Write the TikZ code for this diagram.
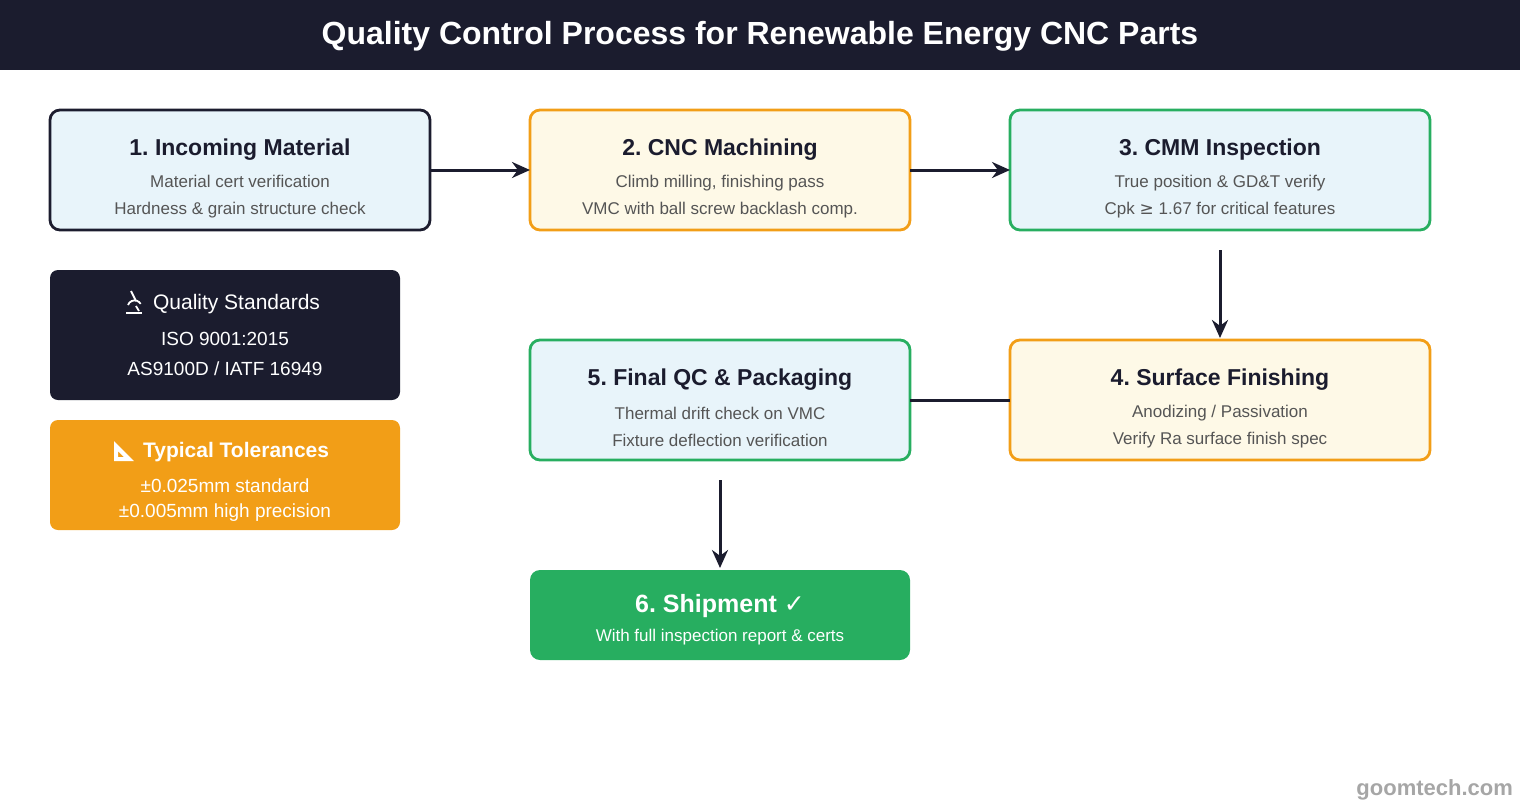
\documentclass[tikz,border=0pt]{standalone}
\usepackage{fontspec}
\setmainfont{Liberation Sans}
\newfontfamily\symf{DejaVu Sans}
\usetikzlibrary{arrows.meta}
\definecolor{navy}{HTML}{1B1C2E}
\definecolor{bluef}{HTML}{E8F4FA}
\definecolor{yelf}{HTML}{FEF9E7}
\definecolor{orng}{HTML}{F29E17}
\definecolor{grn}{HTML}{27AE60}
\definecolor{gtxt}{HTML}{555555}
\begin{document}
\frenchspacing
\begin{tikzpicture}[x=0.5pt,y=-0.5pt,
 box/.style={rounded corners=5pt,line width=1.4pt},
 ttl/.style={font=\fontsize{11.5}{13}\selectfont\bfseries,text=navy},
 sub/.style={font=\fontsize{8.5}{13.5}\selectfont,text=gtxt,align=center},
 arr/.style={-{Stealth[length=9pt,width=8pt]},line width=1.5pt,draw=navy},
 ln/.style={line width=1.5pt,draw=navy},
 icon/.style={white,line width=0.9pt}]
\useasboundingbox (0,0) rectangle (1520,800);
\fill[navy] (0,0) rectangle (1520,70);
\node[text=white,font=\fontsize{16}{18}\selectfont\bfseries] (title) at (760,36) {Quality Control Process for Renewable Energy CNC Parts};
% boxes
\draw[box,draw=navy,fill=bluef] (50,110) rectangle (430,230);
\node[ttl] (t1) at (240,150) {1. Incoming Material};
\node[sub] (s1) at (240,197) {Material cert verification\\Hardness \& grain structure check};
\draw[box,draw=orng,fill=yelf] (530,110) rectangle (910,230);
\node[ttl] (t2) at (720,150) {2. CNC Machining};
\node[sub] (s2) at (720,197) {Climb milling, finishing pass\\VMC with ball screw backlash comp.};
\draw[box,draw=grn,fill=bluef] (1010,110) rectangle (1430,230);
\node[ttl] (t3) at (1220,150) {3. CMM Inspection};
\node[sub] (s3) at (1220,197) {True position \& GD\&T verify\\Cpk {\symf ≥} 1.67 for critical features};
\draw[box,draw=orng,fill=yelf] (1010,340) rectangle (1430,460);
\node[ttl] (t4) at (1220,380) {4. Surface Finishing};
\node[sub] (s4) at (1220,427) {Anodizing / Passivation\\Verify Ra surface finish spec};
\draw[box,draw=grn,fill=bluef] (530,340) rectangle (910,460);
\node[ttl] (t5) at (720,380) {5. Final QC \& Packaging};
\node[sub] (s5) at (720,427) {Thermal drift check on VMC\\Fixture deflection verification};
\fill[grn,rounded corners=5pt] (530,570) rectangle (910,660);
\node[text=white,font=\fontsize{12.5}{14}\selectfont\bfseries] (t6) at (720,606) {6. Shipment {\symf\mdseries ✓}};
\node[text=white,font=\fontsize{8.5}{10}\selectfont] (s6) at (720,637) {With full inspection report \& certs};
\fill[navy,rounded corners=4pt] (50,270) rectangle (400,400);
\node[text=white,font=\fontsize{10.5}{12}\selectfont,anchor=west] (q1) at (146,304) {Quality Standards};
% microscope icon
\draw[icon] (126,313) -- (142,313);
\draw[icon] (131,291) -- (136,301);
\draw[icon] (128,305) arc[start angle=200,end angle=330,radius=7];
\draw[icon] (136,306) -- (139,311);
\node[text=white,font=\fontsize{9.5}{15}\selectfont,align=center] (q2) at (225,354) {ISO 9001:2015\\AS9100D / IATF 16949};
\fill[orng,rounded corners=4pt] (50,420) rectangle (400,530);
\node[text=white,font=\fontsize{10.5}{12}\selectfont\bfseries,anchor=west] (p1) at (136,452) {Typical Tolerances};
% set square icon
\fill[white,even odd rule] (114,441) -- (114,461) -- (134,461) -- cycle (118,451) -- (118,457) -- (124,457) -- cycle;
\node[text=white,font=\fontsize{9.5}{12.5}\selectfont,align=center] (p2) at (225,500) {±0.025mm standard\\±0.005mm high precision};
% connectors
\coordinate (a1) at (430,170); \coordinate (a2) at (530,170);
\coordinate (b1) at (910,170); \coordinate (b2) at (1010,170);
\coordinate (c1) at (1220,250); \coordinate (c2) at (1220,338);
\coordinate (d1) at (1010,400); \coordinate (d2) at (910,400);
\coordinate (e1) at (720,480); \coordinate (e2) at (720,568);
\draw[arr] (a1) -- (a2);
\draw[arr] (b1) -- (b2);
\draw[arr] (c1) -- (c2);
\draw[ln] (d1) -- (d2);
\draw[arr] (e1) -- (e2);
\node[text=gray!70,font=\fontsize{11}{12}\selectfont\bfseries,anchor=east] (wm) at (1520,790) {goomtech.com};
\end{tikzpicture}
\end{document}
